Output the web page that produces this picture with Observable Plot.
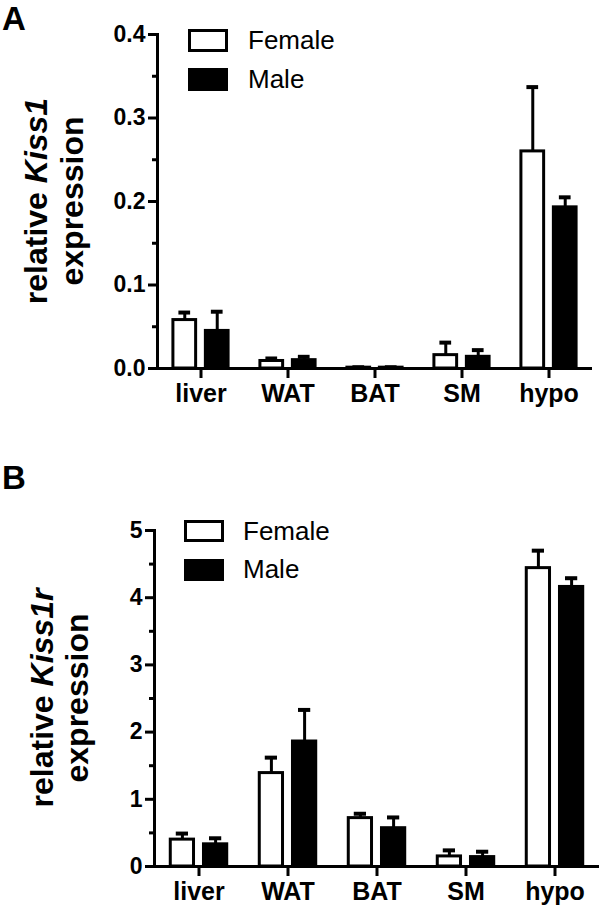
<!DOCTYPE html>
<html>
<head>
<meta charset="utf-8">
<script src="https://cdn.jsdelivr.net/npm/d3@7"></script>
<script src="https://cdn.jsdelivr.net/npm/@observablehq/plot@0.6"></script>
<style>
  body { margin: 0; background: #fff; }
  #chart { width: 600px; }
  #chart svg { display: block; }
</style>
</head>
<body>
<div id="chart"></div>
<script>
// ---- data ----
const tissues = ["liver", "WAT", "BAT", "SM", "hypo"];
const sexes = ["Female", "Male"];

// Panel A: relative Kiss1 expression (mean, SEM)
const kiss1Female    = [0.058, 0.009, 0.001, 0.016, 0.260];
const kiss1FemaleErr = [0.009, 0.003, 0.0005, 0.015, 0.077];
const kiss1Male      = [0.045, 0.010, 0.001, 0.014, 0.193];
const kiss1MaleErr   = [0.023, 0.004, 0.0005, 0.008, 0.012];

// Panel B: relative Kiss1r expression (mean, SEM)
const kiss1rFemale    = [0.40, 1.39, 0.72, 0.15, 4.44];
const kiss1rFemaleErr = [0.09, 0.23, 0.065, 0.09, 0.26];
const kiss1rMale      = [0.33, 1.86, 0.57, 0.14, 4.16];
const kiss1rMaleErr   = [0.09, 0.47, 0.16, 0.08, 0.13];

const yTicksA = [0, 0.1, 0.2, 0.3, 0.4];
const yMinorA = [0.05, 0.15, 0.25, 0.35];
const yTicksB = [0, 1, 2, 3, 4, 5];
const yMinorB = [0.5, 1.5, 2.5, 3.5, 4.5];

// ---- build ----
function makeRows(f, fe, m, me) {
  const rows = [];
  tissues.forEach((t, i) => {
    rows.push({tissue: t, sex: sexes[0], value: f[i], err: fe[i]});
    rows.push({tissue: t, sex: sexes[1], value: m[i], err: me[i]});
  });
  return rows;
}

const FONT = "'Liberation Sans', Arial, Helvetica, sans-serif";

function panel(o) {
  return Plot.plot({
    width: 600,
    height: o.height,
    marginTop: o.marginTop,
    marginBottom: o.marginBottom,
    marginLeft: o.marginLeft,
    marginRight: o.marginRight,
    style: {fontFamily: FONT, fontWeight: "bold", fontSize: "23px", color: "#000", background: "#fff", overflow: "visible"},
    fx: {domain: tissues, padding: 0, label: null},
    x: {domain: sexes, paddingInner: 0.3, paddingOuter: 0.49, round: false, axis: null},
    y: {domain: o.yDomain, label: null},
    color: {domain: sexes, range: ["#fff", "#000"]},
    marks: [
      Plot.ruleX(o.rows, {fx: "tissue", x: "sex", y1: "value", y2: d => d.value + d.err, stroke: "#000", strokeWidth: 3}),
      Plot.tickY(o.rows, {fx: "tissue", x: "sex", y: d => d.value + d.err, stroke: "#000", strokeWidth: 4, inset: 5.5}),
      Plot.barY(o.rows, {fx: "tissue", x: "sex", y: "value", fill: "sex", stroke: "#000", strokeWidth: 3}),
      Plot.ruleY([0], {stroke: "#000", strokeWidth: 3}),
      Plot.frame({anchor: "left", facetAnchor: "left", stroke: "#000", strokeWidth: 3}),
      Plot.axisY({ticks: o.ticks, tickFormat: o.fmt, tickSize: 9, tickPadding: 3, strokeWidth: 3, fontSize: 23, label: null}),
      Plot.axisY({ticks: o.minor, tickFormat: () => "", tickSize: 5, strokeWidth: 3, label: null}),
      Plot.axisFx({anchor: "bottom", tickSize: 10, tickPadding: 6, strokeWidth: 3, fontSize: 25, label: null})
    ]
  });
}

function decorate(svg, o) {
  const s = d3.select(svg);
  // panel letter
  s.append("text").attr("x", 2).attr("y", o.letterY).attr("text-anchor", "start")
    .attr("font-family", FONT).attr("font-weight", "bold").attr("font-size", 33)
    .attr("fill", "#000").text(o.letter);
  // y title (two lines, rotated)
  const t1 = s.append("text")
    .attr("transform", `translate(${o.line1X},${o.titleCY}) rotate(-90)`)
    .attr("text-anchor", "middle").attr("font-family", FONT)
    .attr("font-weight", "bold").attr("font-size", 32).attr("fill", "#000");
  t1.append("tspan").text("relative ");
  t1.append("tspan").attr("font-style", "italic").text(o.gene);
  s.append("text")
    .attr("transform", `translate(${o.line2X},${o.titleCY}) rotate(-90)`)
    .attr("text-anchor", "middle").attr("font-family", FONT)
    .attr("font-weight", "bold").attr("font-size", 32).attr("fill", "#000")
    .text("expression");
  // legend
  const fills = ["#fff", "#000"];
  sexes.forEach((name, i) => {
    s.append("rect").attr("x", o.legX).attr("y", o.legY[i]).attr("width", 37).attr("height", o.legH)
      .attr("fill", fills[i]).attr("stroke", "#000").attr("stroke-width", 3);
    s.append("text").attr("x", o.legTextX).attr("y", o.legBase[i]).attr("text-anchor", "start")
      .attr("font-family", FONT).attr("font-weight", "normal").attr("font-size", 26)
      .attr("fill", "#000").text(name);
  });
}

const chart = document.getElementById("chart");

const svgA = panel({
  rows: makeRows(kiss1Female, kiss1FemaleErr, kiss1Male, kiss1MaleErr),
  yDomain: [0, 0.4], ticks: yTicksA, minor: yMinorA, fmt: d3.format(".1f"),
  height: 454, marginTop: 34, marginBottom: 86, marginLeft: 155, marginRight: 7
});
decorate(svgA, {letter: "A", letterY: 30, gene: "Kiss1", titleCY: 201, line1X: 47, line2X: 83,
  legX: 189.5, legY: [30.5, 69.5], legH: 20, legTextX: 248, legBase: [49, 88]});
chart.appendChild(svgA);

const svgB = panel({
  rows: makeRows(kiss1rFemale, kiss1rFemaleErr, kiss1rMale, kiss1rMaleErr),
  yDomain: [0, 5], ticks: yTicksB, minor: yMinorB, fmt: d3.format("d"),
  height: 454, marginTop: 76, marginBottom: 42, marginLeft: 153, marginRight: 0
});
decorate(svgB, {letter: "B", letterY: 35, gene: "Kiss1r", titleCY: 244, line1X: 53, line2X: 88,
  legX: 185.5, legY: [67.5, 106.5], legH: 19, legTextX: 243, legBase: [86, 124]});
chart.appendChild(svgB);
</script>
</body>
</html>
